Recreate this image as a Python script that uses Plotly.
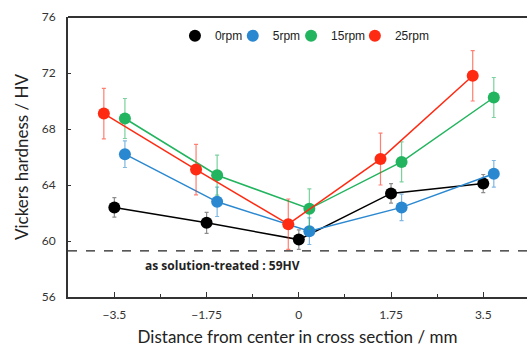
import plotly.graph_objects as go

positions = [-3.5, -1.75, 0, 1.75, 3.5]
series_names = ["0rpm", "5rpm", "15rpm", "25rpm"]
series_offsets = [0.0, 0.2, 0.2, -0.2]
hv_0rpm = [62.4, 61.3, 60.1, 63.4, 64.1]
err_0rpm = [0.7, 0.75, 0.7, 0.7, 0.65]
hv_5rpm = [66.2, 62.8, 60.7, 62.4, 64.8]
err_5rpm = [0.95, 1.05, 0.95, 0.95, 0.95]
hv_15rpm = [68.75, 64.7, 62.3, 65.65, 70.25]
err_15rpm = [1.43, 1.43, 1.43, 1.43, 1.43]
hv_25rpm = [69.1, 65.1, 61.2, 65.85, 71.8]
err_25rpm = [1.8, 1.8, 1.8, 1.85, 1.8]
baseline_hv = 59.3
baseline_label = "as solution-treated : 59HV"
x_ticks = [-3.5, -1.75, 0, 1.75, 3.5]
x_tick_labels = ["\u22123.5", "\u22121.75", "0", "1.75", "3.5"]
y_ticks = [56, 60, 64, 68, 72, 76]

colors = ["#000000", "#2a88d0", "#22b45e", "#ff2a12"]
err_colors = ["rgba(0,0,0,0.45)", "rgba(42,136,208,0.6)", "rgba(34,180,94,0.6)", "rgba(255,42,18,0.6)"]
values = [hv_0rpm, hv_5rpm, hv_15rpm, hv_25rpm]
errors = [err_0rpm, err_5rpm, err_15rpm, err_25rpm]
legend_ids = ["legend", "legend2", "legend3", "legend4"]
legend_x = [0.233, 0.359, 0.486, 0.625]

fig = go.Figure()
for name, off, ys, es, c, ec in zip(series_names, series_offsets, values, errors, colors, err_colors):
    fig.add_trace(go.Scatter(
        x=[p + off for p in positions], y=ys, name=name,
        mode="lines+markers", showlegend=False,
        line=dict(color=c, width=1.5),
        marker=dict(color=c, size=12),
        error_y=dict(type="data", array=es, color=ec, thickness=1.2, width=2),
    ))
for name, c, lid in zip(series_names, colors, legend_ids):
    fig.add_trace(go.Scatter(x=[None], y=[None], name=name, mode="markers",
                             marker=dict(color=c, size=12), showlegend=True, legend=lid))

fig.add_hline(y=baseline_hv, line=dict(color="#222", width=1.2, dash="dash"))
fig.add_annotation(x=-1.44, y=baseline_hv - 0.3, text="<b>" + baseline_label + "</b>",
                   showarrow=False, yanchor="top", xanchor="center",
                   font=dict(family="Open Sans, DejaVu Sans", size=12, color="#222"))
fig.add_shape(type="line", xref="paper", yref="paper", x0=0, x1=1, y0=1, y1=1,
              line=dict(color="#333", width=2))

legend_common = dict(orientation="h", y=0.985, xanchor="left", yanchor="top",
                     font=dict(family="Liberation Sans, Arial", size=12, color="#222"),
                     bgcolor="rgba(0,0,0,0)")
layout_legends = {}
for lid, lx in zip(legend_ids, legend_x):
    layout_legends[lid] = dict(legend_common, x=lx)

fig.update_layout(
    width=527, height=347,
    margin=dict(l=68, r=0, t=17, b=50),
    plot_bgcolor="white", paper_bgcolor="white",
    font=dict(family="Lato, Open Sans", color="#333"),
    xaxis=dict(range=[-4.38, 4.33], tickvals=x_ticks, ticktext=x_tick_labels,
               showgrid=False, zeroline=False, showline=True, linecolor="#333", linewidth=2,
               ticks="inside", ticklen=5, tickcolor="#333", tickwidth=1,
               minor=dict(ticks="inside", ticklen=3, dtick=1.75, tick0=-2.625, tickcolor="#333"),
               tickfont=dict(size=12, color="#333"), ticklabelstandoff=6,
               title=dict(text="Distance from center in cross section / mm",
                          font=dict(size=17, color="#222"), standoff=11)),
    yaxis=dict(range=[56, 76], tickvals=y_ticks, showgrid=False, zeroline=False,
               showline=True, linecolor="#333", linewidth=2,
               ticks="inside", ticklen=3, tickcolor="#333",
               tickfont=dict(size=12, color="#333"), ticklabelstandoff=8,
               title=dict(text="Vickers hardness / HV", font=dict(size=17, color="#222"), standoff=9)),
    **layout_legends,
)
fig.write_html("out.html")
